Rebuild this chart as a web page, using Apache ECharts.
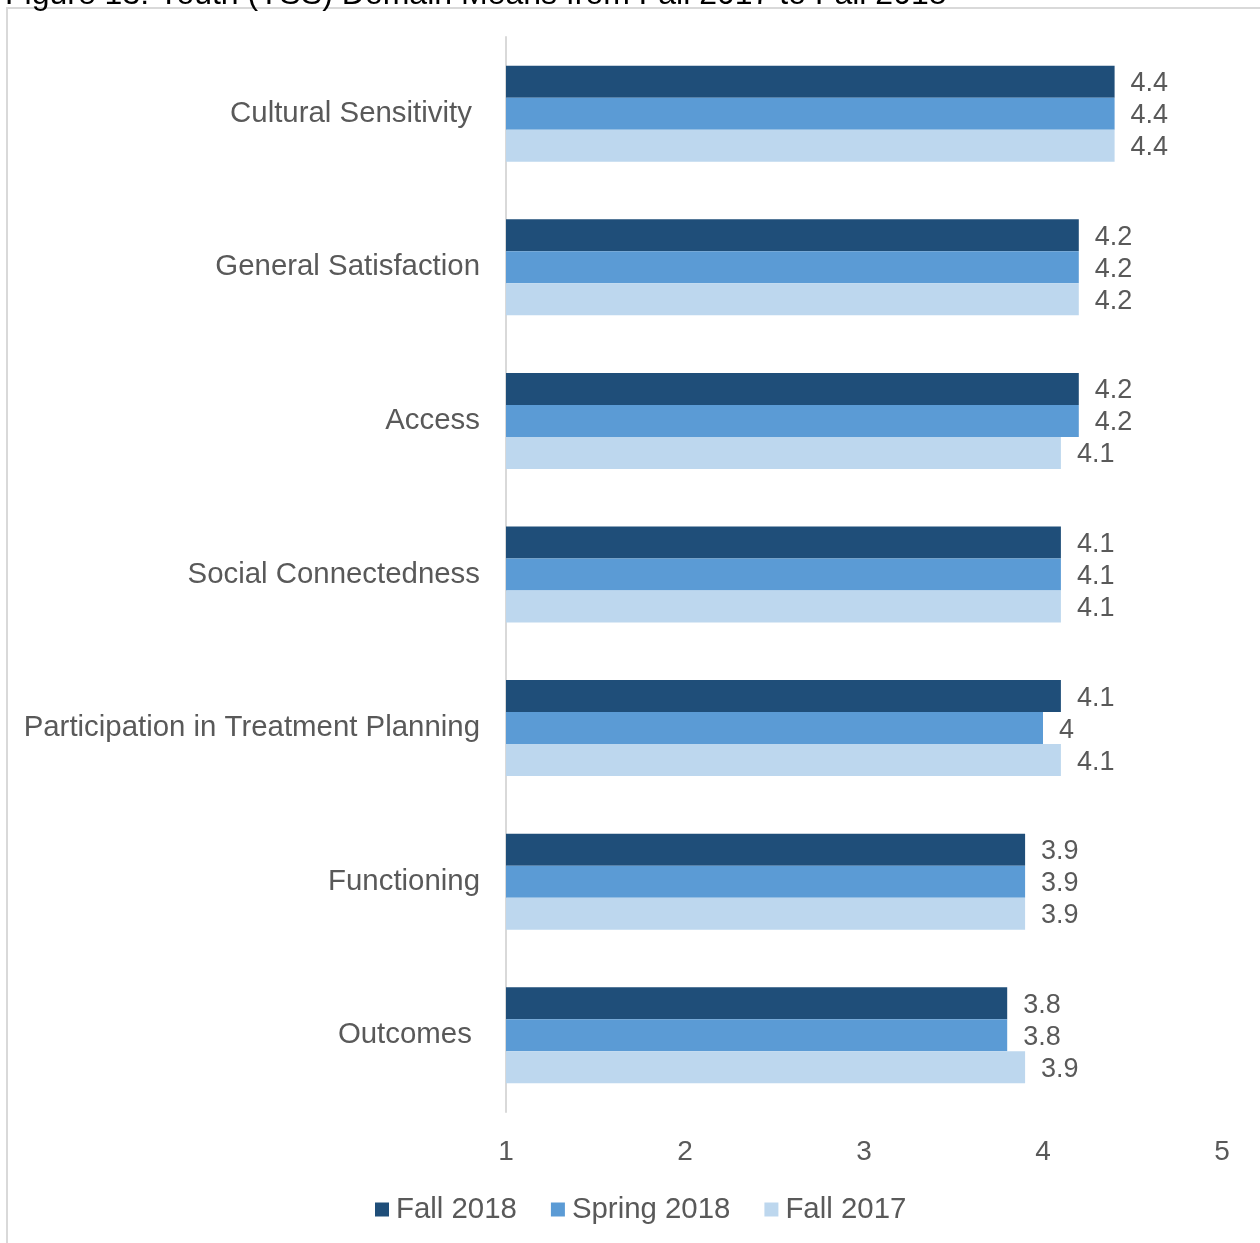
<!DOCTYPE html>
<html>
<head>
<meta charset="utf-8">
<script src="https://cdn.jsdelivr.net/npm/echarts@6/dist/echarts.min.js"></script>
<style>
  html, body { margin: 0; padding: 0; background: #fff; }
  #chart { width: 1260px; height: 1243px; }
</style>
</head>
<body>
<div id="chart"></div>
<script>
// Domain names, top to bottom
const domains = [
  'Cultural Sensitivity ',
  'General Satisfaction',
  'Access',
  'Social Connectedness',
  'Participation in Treatment Planning',
  'Functioning',
  'Outcomes '
];

// Mean scores per survey period
const fall2018   = [4.4, 4.2, 4.2, 4.1, 4.1, 3.9, 3.8];
const spring2018 = [4.4, 4.2, 4.2, 4.1, 4.0, 3.9, 3.8];
const fall2017   = [4.4, 4.2, 4.1, 4.1, 4.1, 3.9, 3.9];

const seriesNames = ['Fall 2018', 'Spring 2018', 'Fall 2017'];
const seriesColors = ['#1f4e79', '#5b9bd5', '#bdd7ee'];
const seriesData = [fall2018, spring2018, fall2017];

const FONT = '"Liberation Sans", Arial, sans-serif';
const GREY = '#595959';

const chart = echarts.init(document.getElementById('chart'), null, { renderer: 'canvas' });

chart.setOption({
  backgroundColor: '#ffffff',
  animation: false,
  graphic: [
    {
      type: 'rect',
      shape: { x: 7, y: 8, width: 1262, height: 1245 },
      style: { fill: 'none', stroke: '#d9d9d9', lineWidth: 2 },
      silent: true
    },
    {
      type: 'text',
      x: 5,
      y: 11,
      style: {
        text: 'Figure 13: Youth (YSS) Domain Means from Fall 2017 to Fall 2018',
        font: '32px ' + FONT,
        fill: '#000000',
        textAlign: 'left',
        textVerticalAlign: 'bottom'
      },
      silent: true
    }
  ],
  grid: { left: 506, right: 38, top: 37, bottom: 131, containLabel: false },
  legend: {
    data: seriesNames,
    bottom: 14,
    left: 370,
    itemWidth: 14,
    itemHeight: 14,
    itemGap: 34,
    icon: 'rect',
    textStyle: { fontFamily: FONT, fontSize: 29.4, color: GREY, padding: [0, 0, 0, 2] }
  },
  xAxis: {
    type: 'value',
    min: 1,
    max: 5,
    interval: 1,
    axisLine: { show: false },
    axisTick: { show: false },
    splitLine: { show: false },
    axisLabel: { fontFamily: FONT, fontSize: 28, color: GREY, margin: 26 }
  },
  yAxis: {
    type: 'category',
    data: domains,
    inverse: true,
    axisLine: { show: true, lineStyle: { color: '#d9d9d9', width: 2 } },
    axisTick: { show: false },
    splitLine: { show: false },
    axisLabel: { fontFamily: FONT, fontSize: 29.4, color: GREY, margin: 26 }
  },
  series: seriesNames.map((name, i) => ({
    name: name,
    type: 'bar',
    data: seriesData[i],
    barGap: '0%',
    barCategoryGap: '37.5%',
    itemStyle: { color: seriesColors[i] },
    label: {
      show: true,
      position: 'right',
      distance: 16,
      offset: [0, 2],
      fontFamily: FONT,
      fontSize: 27,
      color: GREY
    }
  }))
});
</script>
</body>
</html>
